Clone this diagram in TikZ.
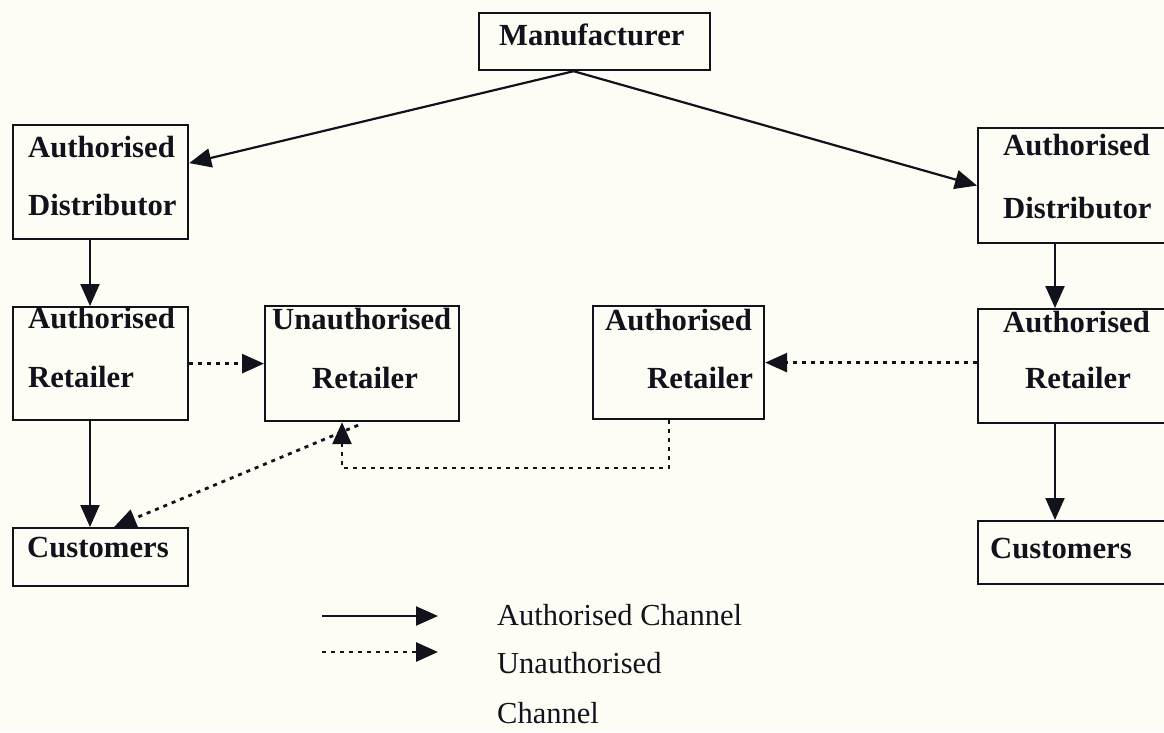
\documentclass[tikz,border=0pt]{standalone}
\usepackage{fontspec}
\setmainfont{Liberation Serif}
\usetikzlibrary{arrows.meta,calc}
\definecolor{paper}{RGB}{254,253,245}
\definecolor{ink}{RGB}{18,18,28}
\begin{document}
\begin{tikzpicture}[x=1pt,y=-1pt,
  box/.style={draw=ink, line width=2.2pt, rectangle, inner sep=0pt, anchor=north west},
  lbl/.style={anchor=base west, inner sep=0pt, text=ink, font=\fontsize{30.7}{36}\selectfont\bfseries},
  legtxt/.style={anchor=base west, inner sep=0pt, text=ink, font=\fontsize{30.5}{36}\selectfont},
  head/.style={-{Triangle[length=22pt,width=19pt]}},
  solidarrow/.style={head, draw=ink, line width=2.2pt},
  dotarrow/.style={head, draw=ink, line width=2.8pt, dash pattern=on 4pt off 5pt},
]
\useasboundingbox (0,0) rectangle (1164,732);
\clip (0,0) rectangle (1164,732);
\fill[paper] (0,0) rectangle (1164,732);

% boxes
\node[box, minimum width=231pt, minimum height=57pt]  (mfr) at (478,12)  {};
\node[box, minimum width=175pt, minimum height=114pt] (lad) at (12,124)  {};
\node[box, minimum width=175pt, minimum height=113pt] (lar) at (12,306)  {};
\node[box, minimum width=175pt, minimum height=58pt]  (lcu) at (12,527)  {};
\node[box, minimum width=194pt, minimum height=115pt] (ur)  at (264,305) {};
\node[box, minimum width=171pt, minimum height=113pt] (mar) at (592,305) {};
\node[box, minimum width=200pt, minimum height=115pt] (rad) at (977,127) {};
\node[box, minimum width=200pt, minimum height=114pt] (rar) at (977,308) {};
\node[box, minimum width=200pt, minimum height=63pt]  (rcu) at (977,520) {};

% box labels
\node[lbl] (tmfr)  at (499,45)  {Manufacturer};
\node[lbl] (tlad1) at (28,157)  {Authorised};
\node[lbl] (tlad2) at (28,215)  {Distributor};
\node[lbl] (tlar1) at (28,328)  {Authorised};
\node[lbl] (tlar2) at (28,387)  {Retailer};
\node[lbl] (tlcu)  at (27,557)  {Customers};
\node[lbl] (tur1)  at (272,329) {Unauthorised};
\node[lbl] (tur2)  at (312,388) {Retailer};
\node[lbl] (tmar1) at (605,330) {Authorised};
\node[lbl] (tmar2) at (647,388) {Retailer};
\node[lbl] (trad1) at (1003,155) {Authorised};
\node[lbl] (trad2) at (1003,218) {Distributor};
\node[lbl] (trar1) at (1003,332) {Authorised};
\node[lbl] (trar2) at (1025,388) {Retailer};
\node[lbl] (trcu)  at (990,558) {Customers};

% authorised flows
\coordinate (colL) at (90,0);
\coordinate (colR) at (1055,0);
\draw[solidarrow] ([xshift=-21pt]mfr.south) -- ([yshift=19pt]lad.east);
\draw[solidarrow] ([xshift=-21pt]mfr.south) -- (rad.west);
\draw[solidarrow] (lad.south -| colL) -- (lar.north -| colL);
\draw[solidarrow] (lar.south -| colL) -- (lcu.north -| colL);
\draw[solidarrow] (rad.south -| colR) -- (rar.north -| colR);
\draw[solidarrow] (rar.south -| colR) -- (rcu.north -| colR);

% unauthorised flows
\coordinate (jog) at (342,468);
\coordinate (dropX) at (669,0);
\draw[dotarrow] (lar.east) -- (ur.west);
\draw[dotarrow] (rar.west |- mar.east) -- (mar.east);
\draw[dotarrow] (mar.south -| dropX) |- (jog) -- (jog |- ur.south);
\draw[dotarrow] ([xshift=-4pt,yshift=-3pt]ur.south) -- ([xshift=13.5pt]lcu.north);

% legend
\coordinate (ls0) at (322,616);
\coordinate (ls1) at (438,616);
\coordinate (ld0) at (322,652);
\coordinate (ld1) at (438,652);
\draw[solidarrow] (ls0) -- (ls1);
\draw[dotarrow] (ld0) -- (ld1);
\node[legtxt] (leg1) at (497,625) {Authorised Channel};
\node[legtxt] (leg2) at (497,673) {Unauthorised};
\node[legtxt] (leg3) at (497,723) {Channel};
\end{tikzpicture}
\end{document}
